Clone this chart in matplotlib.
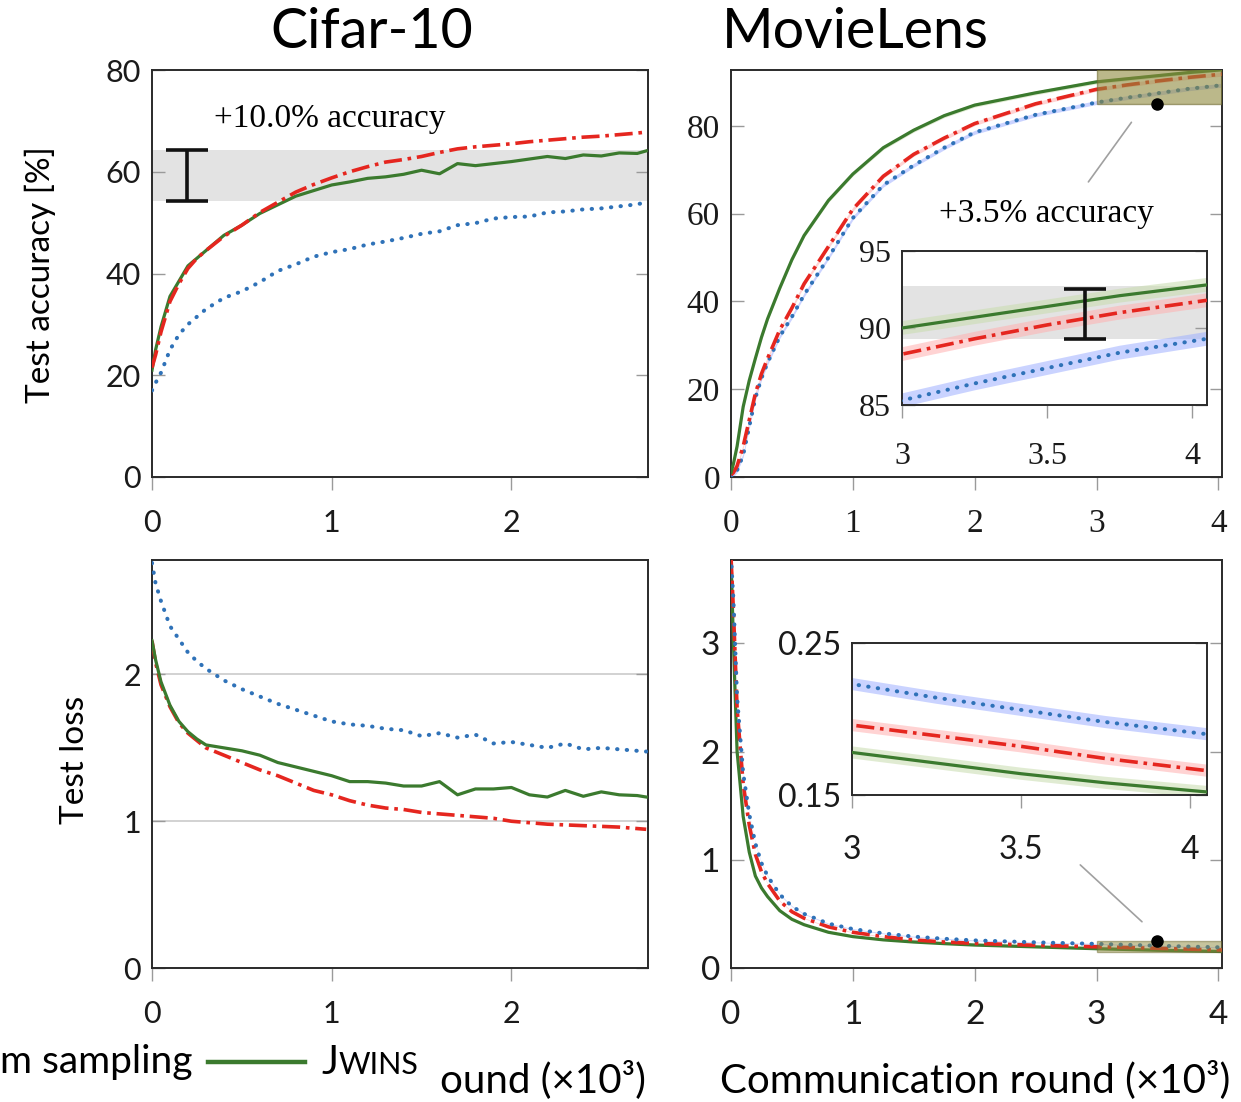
import numpy as np
import matplotlib
matplotlib.use("Agg")
import matplotlib.pyplot as plt
from matplotlib.lines import Line2D
from matplotlib.patches import Rectangle

SANS = ["Lato", "DejaVu Sans"]
SERIF = ["Liberation Serif", "DejaVu Serif"]
plt.rcParams["font.family"] = SANS

# ---------------- data ----------------
cifar_rounds = [0, 0.02, 0.05, 0.1, 0.15, 0.2, 0.25, 0.3, 0.4, 0.5, 0.6, 0.7, 0.8, 0.9, 1.0,
                1.1, 1.2, 1.3, 1.4, 1.5, 1.6, 1.7, 1.8, 1.9, 2.0, 2.1, 2.2, 2.3, 2.4, 2.5,
                2.6, 2.7, 2.75]
cifar_acc_random = [17, 18.5, 20.5, 25, 28, 30, 31.5, 33, 35.2, 36.5, 38.3, 40.5, 41.8, 43.3, 44.2,
                    44.8, 45.7, 46.3, 47.0, 47.8, 48.3, 49.5, 49.9, 50.8, 51.1, 51.2, 52.0, 52.2,
                    52.6, 52.8, 53.2, 53.6, 54.0]
cifar_acc_baseline = [21.5, 24, 28.5, 34.5, 38, 41, 43, 44.5, 47.3, 49.5, 52, 54, 56, 57.5, 58.8,
                      60, 61, 61.9, 62.4, 63, 63.8, 64.5, 64.9, 65.2, 65.5, 65.9, 66.2, 66.5,
                      66.8, 67, 67.3, 67.6, 67.8]
cifar_acc_jwins = [21, 25, 29.5, 35.5, 38.5, 41.5, 43, 44.5, 47.5, 49.5, 51.8, 53.5, 55.2, 56.3,
                   57.4, 58.0, 58.7, 59.0, 59.5, 60.3, 59.6, 61.6, 61.2, 61.6, 62.0, 62.5, 63.0,
                   62.6, 63.3, 63.1, 63.7, 63.6, 64.1]
cifar_loss_random = [2.76, 2.62, 2.5, 2.33, 2.24, 2.15, 2.09, 2.04, 1.96, 1.90, 1.85, 1.80, 1.76,
                     1.72, 1.68, 1.66, 1.65, 1.63, 1.62, 1.58, 1.60, 1.57, 1.59, 1.53, 1.54, 1.52,
                     1.50, 1.53, 1.49, 1.50, 1.49, 1.48, 1.475]
cifar_loss_baseline = [2.23, 2.08, 1.93, 1.78, 1.67, 1.60, 1.55, 1.50, 1.45, 1.40, 1.35, 1.31,
                       1.26, 1.21, 1.18, 1.14, 1.11, 1.09, 1.08, 1.06, 1.05, 1.04, 1.03, 1.02,
                       1.00, 0.99, 0.98, 0.975, 0.97, 0.965, 0.96, 0.95, 0.945]
cifar_loss_jwins = [2.23, 2.1, 1.95, 1.79, 1.68, 1.61, 1.56, 1.52, 1.50, 1.48, 1.45, 1.40, 1.37,
                    1.34, 1.31, 1.27, 1.27, 1.26, 1.24, 1.24, 1.27, 1.18, 1.22, 1.22, 1.23, 1.18,
                    1.165, 1.21, 1.17, 1.20, 1.18, 1.175, 1.165]

ml_rounds = [0, 0.02, 0.05, 0.1, 0.15, 0.2, 0.25, 0.3, 0.4, 0.5, 0.6, 0.8, 1.0, 1.25, 1.5, 1.75,
             2.0, 2.5, 3.0, 3.25, 3.5, 3.75, 4.05]
ml_acc_random = [0, 0.5, 1.5, 5, 11.5, 18, 22.5, 26, 32, 36.5, 41.5, 50, 59, 66.5, 71, 75,
                 78.5, 82.5, 85.3, 86.4, 87.4, 88.4, 89.3]
ml_acc_baseline = [0.5, 1, 2.5, 7, 13, 19, 23.5, 27, 33.5, 38.5, 44, 52.5, 61, 68.5, 73.5, 77.2,
                   80.5, 85, 88.3, 89.3, 90.2, 91.0, 91.8]
ml_acc_jwins = [1, 3, 7, 16, 22, 27, 31.8, 36, 43, 49.5, 55, 63, 69, 75, 79, 82.3,
                84.7, 87.5, 90.0, 90.7, 91.4, 92.1, 92.8]
ml_loss_random = [3.8, 3.4, 2.5, 1.8, 1.42, 1.15, 0.97, 0.85, 0.68, 0.57, 0.50, 0.41, 0.36, 0.32,
                  0.29, 0.27, 0.255, 0.237, 0.223, 0.214, 0.206, 0.198, 0.190]
ml_loss_baseline = [3.8, 3.3, 2.4, 1.7, 1.32, 1.05, 0.89, 0.78, 0.62, 0.52, 0.46, 0.38, 0.33,
                    0.29, 0.26, 0.24, 0.228, 0.21, 0.196, 0.189, 0.182, 0.174, 0.166]
ml_loss_jwins = [3.8, 3.0, 2.0, 1.4, 1.07, 0.85, 0.74, 0.66, 0.53, 0.45, 0.40, 0.33, 0.29, 0.26,
                 0.24, 0.225, 0.212, 0.195, 0.178, 0.171, 0.164, 0.158, 0.152]
ml_acc_std = 0.45
ml_loss_std = 0.004

cifar_gain_band = (54.2, 64.2)
ml_gain_band = (89.3, 92.7)
ml_acc_zoom = ((3.0, 4.05), (85, 95))
ml_loss_zoom = ((3.0, 4.05), (0.15, 0.25))

# ---------------- styles ----------------
C_GREEN = "#3b7a2e"
C_RED = "#e5261f"
C_BLUE = "#2f72b8"
STY = {
    "random": dict(color=C_BLUE, lw=2.9, ls=(0, (0.1, 2.3)), dash_capstyle="round"),
    "baseline": dict(color=C_RED, lw=2.6, ls=(0, (5, 1.6, 1, 1.6))),
    "jwins": dict(color=C_GREEN, lw=2.3, ls="-"),
}
BAND = {"random": "#9fb0ff", "baseline": "#ffb0b0", "jwins": "#c8dcae"}
SPINE = "#2a2a2a"
TICKC = "#9a9a9a"

W, H = 1241, 1102
fig = plt.figure(figsize=(W / 100, H / 100), dpi=100)


def axes_px(l, t, r, b):
    return fig.add_axes([l / W, 1 - b / H, (r - l) / W, (b - t) / H])


def style_axes(ax, fs, fam, xpad=14):
    for s in ax.spines.values():
        s.set_color(SPINE)
        s.set_linewidth(1.4)
    ax.tick_params(axis="y", direction="in", left=True, right=True, length=9,
                   width=1.0, color=TICKC, labelsize=fs, pad=8)
    ax.tick_params(axis="x", direction="out", length=9, width=1.0, color=TICKC,
                   labelsize=fs, pad=xpad)
    for lab in ax.get_xticklabels() + ax.get_yticklabels():
        lab.set_family(fam)
        lab.set_color("#1a1a1a")


def plot_series(ax, x, series, bands=None):
    for key, y in series:
        if bands is not None:
            y = np.asarray(y)
            ax.fill_between(x, y - bands, y + bands, color=BAND[key], alpha=0.55,
                            lw=0, zorder=2)
        ax.plot(x, y, zorder=3, **STY[key])


# ---- Cifar accuracy ----
ax = axes_px(152, 70, 648, 477)
ax.axhspan(*cifar_gain_band, color="#e3e3e3", zorder=1, lw=0)
plot_series(ax, cifar_rounds, [("random", cifar_acc_random), ("jwins", cifar_acc_jwins),
                               ("baseline", cifar_acc_baseline)])
mid = np.mean(cifar_gain_band)
ax.errorbar([0.195], [mid], yerr=[[mid - cifar_gain_band[0]], [cifar_gain_band[1] - mid]],
            fmt="none", ecolor="#111111", elinewidth=2.6, capsize=15, capthick=2.6, zorder=4)
ax.text(0.99, 70.5, "+10.0% accuracy", family=SERIF, fontsize=24, ha="center", va="center")
ax.set_xlim(0, 2.76)
ax.set_ylim(0, 80)
ax.set_xticks([0, 1, 2])
ax.set_yticks([0, 20, 40, 60, 80])
style_axes(ax, 22, SANS)

# ---- MovieLens accuracy ----
ax = axes_px(731, 70, 1222, 477)
plot_series(ax, ml_rounds, [("random", ml_acc_random), ("baseline", ml_acc_baseline),
                            ("jwins", ml_acc_jwins)], bands=ml_acc_std)
(zx0, zx1), (zy0, zy1) = ml_acc_zoom
ax.add_patch(Rectangle((zx0, zy0), zx1 - zx0, zy1 - zy0, facecolor="#8f8a3c", alpha=0.6,
                       edgecolor="#6f6a30", lw=1, zorder=4))
ax.plot([3.5], [zy0], "o", color="black", ms=8, zorder=6, clip_on=False)
ax.annotate("", xy=(3.3, 81.3), xytext=(2.92, 66.7),
            arrowprops=dict(arrowstyle="-", color="#a0a0a0", lw=1.2))
ax.text(2.59, 60, "+3.5% accuracy", family=SERIF, fontsize=24, ha="center", va="center")
ax.set_xlim(0, 4.03)
ax.set_ylim(0, 92.7)
ax.set_xticks([0, 1, 2, 3, 4])
ax.set_yticks([0, 20, 40, 60, 80])
style_axes(ax, 24, SERIF)

ins = axes_px(902, 251, 1207, 405)
ins.axhspan(*ml_gain_band, color="#e3e3e3", zorder=1, lw=0)
plot_series(ins, ml_rounds, [("random", ml_acc_random), ("baseline", ml_acc_baseline),
                             ("jwins", ml_acc_jwins)], bands=ml_acc_std)
mid = np.mean(ml_gain_band) - 0.1
ins.errorbar([3.63], [mid], yerr=[[mid - ml_gain_band[0]], [ml_gain_band[1] - 0.2 - mid]],
             fmt="none", ecolor="#111111", elinewidth=2.6, capsize=15, capthick=2.6, zorder=5)
ins.set_xlim(*ml_acc_zoom[0])
ins.set_ylim(*ml_acc_zoom[1])
ins.set_xticks([3, 3.5, 4])
ins.set_xticklabels(["3", "3.5", "4"])
ins.set_yticks([85, 90, 95])
style_axes(ins, 23, SERIF, xpad=18)

# ---- Cifar loss ----
ax = axes_px(152, 560, 648, 968)
ax.yaxis.grid(True, color="#cfcfcf", lw=1.3, zorder=0)
ax.set_axisbelow(True)
plot_series(ax, cifar_rounds, [("random", cifar_loss_random), ("baseline", cifar_loss_baseline),
                               ("jwins", cifar_loss_jwins)])
ax.set_xlim(0, 2.76)
ax.set_ylim(0, 2.78)
ax.set_xticks([0, 1, 2])
ax.set_yticks([0, 1, 2])
style_axes(ax, 22, SANS)

# ---- MovieLens loss ----
ax = axes_px(731, 560, 1222, 968)
plot_series(ax, ml_rounds, [("jwins", ml_loss_jwins), ("baseline", ml_loss_baseline),
                            ("random", ml_loss_random)], bands=ml_loss_std)
(zx0, zx1), (zy0, zy1) = ml_loss_zoom
ax.add_patch(Rectangle((zx0, zy0), zx1 - zx0, zy1 - zy0, facecolor="#8f8a3c", alpha=0.5,
                       edgecolor="#6f6a30", lw=1, zorder=4))
ax.plot([3.5], [zy1], "o", color="black", ms=8, zorder=6)
ax.annotate("", xy=(3.39, 0.41), xytext=(2.85, 0.97),
            arrowprops=dict(arrowstyle="-", color="#a0a0a0", lw=1.2))
ax.set_xlim(0, 4.03)
ax.set_ylim(0, 3.77)
ax.set_xticks([0, 1, 2, 3, 4])
ax.set_yticks([0, 1, 2, 3])
style_axes(ax, 24, SANS)

ins = axes_px(852, 643, 1207, 795)
plot_series(ins, ml_rounds, [("random", ml_loss_random), ("baseline", ml_loss_baseline),
                             ("jwins", ml_loss_jwins)], bands=ml_loss_std)
ins.set_xlim(*ml_loss_zoom[0])
ins.set_ylim(*ml_loss_zoom[1])
ins.set_xticks([3, 3.5, 4])
ins.set_xticklabels(["3", "3.5", "4"])
ins.set_yticks([0.15, 0.25])
ins.set_yticklabels(["0.15", "0.25"])
style_axes(ins, 23, SANS, xpad=20)

# ---------------- texts ----------------
fig.text(372 / W, 1 - 32 / H, "Cifar-10", fontsize=40, ha="center", va="center", family=SANS)
fig.text(855 / W, 1 - 32 / H, "MovieLens", fontsize=40, ha="center", va="center", family=SANS)
fig.text(40 / W, 1 - 275 / H, "Test accuracy [%]", rotation=90, fontsize=24, ha="center",
         va="center", family=SANS)
fig.text(75 / W, 1 - 760 / H, "Test loss", rotation=90, fontsize=24, ha="center",
         va="center", family=SANS)

ly = 1 - 1062 / H
fig.text(0, ly, "m sampling", fontsize=28, ha="left", va="center", family=SANS)
fig.add_artist(Line2D([208 / W, 305 / W], [ly, ly], color=C_GREEN, lw=3.2,
                      transform=fig.transFigure))
fig.text(321 / W, ly, "J", fontsize=29, ha="left", va="center", family=SANS)
fig.text(339 / W, ly - 0.003, "WINS", fontsize=22, ha="left", va="center", family=SANS)
fig.text(440 / W, 1 - 1080 / H, "ound (×10³)", fontsize=29, ha="left", va="center",
         family=SANS)
fig.text(720 / W, 1 - 1080 / H, "Communication round (×10³)", fontsize=29, ha="left",
         va="center", family=SANS)

fig.savefig("out.png", dpi=100)
